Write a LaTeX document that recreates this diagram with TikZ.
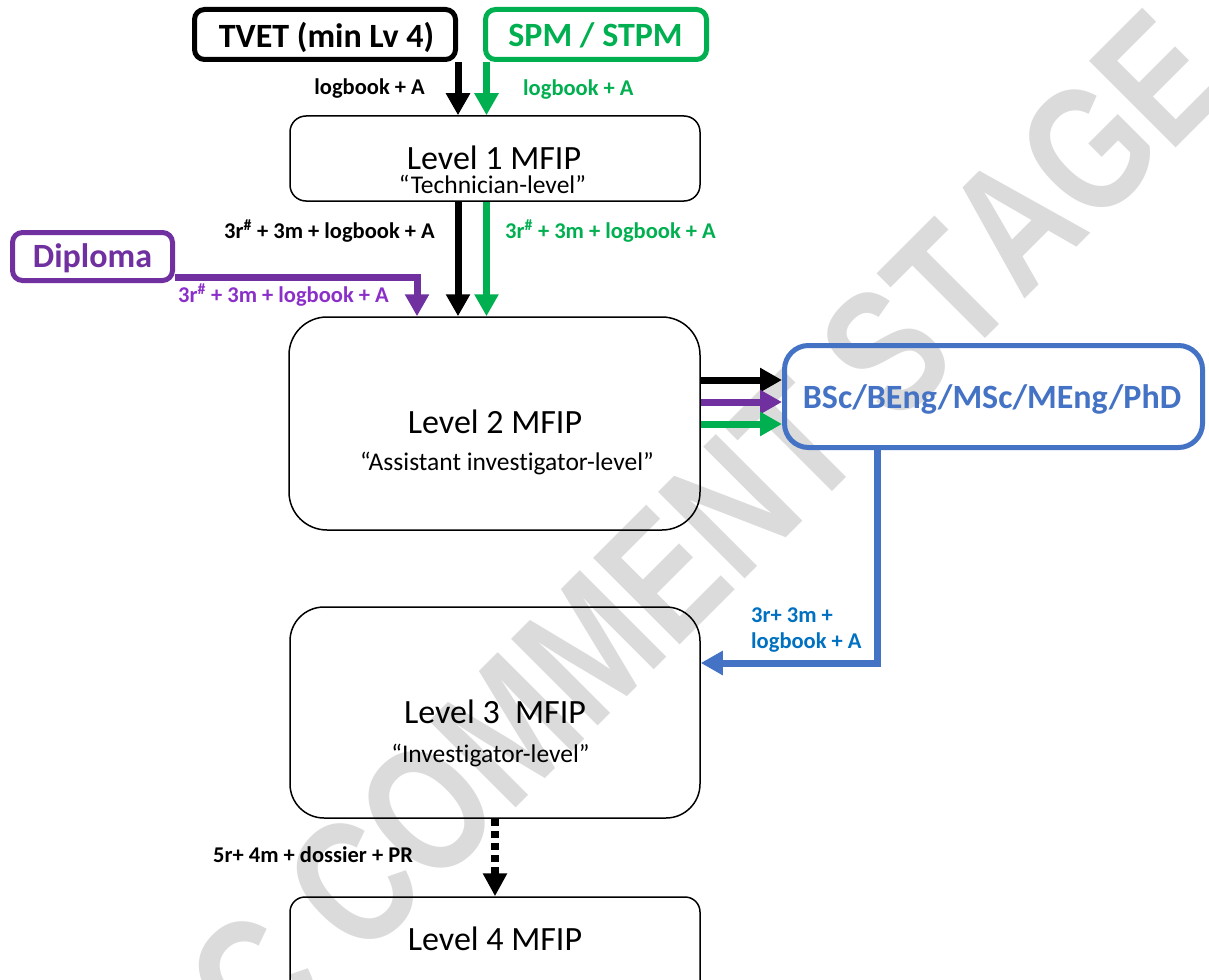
\documentclass[tikz,border=0pt]{standalone}
\usepackage{fontspec}
\setmainfont{Carlito}[Ligatures=NoCommon]
\newfontfamily\wmfont{Liberation Sans}[Kerning=Off]
\usetikzlibrary{arrows.meta,calc}
\definecolor{cgreen}{HTML}{00B050}
\definecolor{cpurple}{HTML}{7030A0}
\definecolor{cpurpletxt}{HTML}{8B2FC9}
\definecolor{cblue}{HTML}{4472C4}
\definecolor{cbluetxt}{HTML}{0070C0}
\definecolor{wmgray}{RGB}{219,219,219}
\begin{document}
\begin{tikzpicture}[x=1pt,y=-1pt,
  srcbox/.style={draw, line width=5pt, rounded corners=10pt, inner sep=0pt},
  lvlbox/.style={draw, line width=1.5pt, inner sep=0pt},
  bigt/.style={font=\fontsize{34}{40}\selectfont, inner sep=0pt, anchor=base},
  bigb/.style={font=\fontsize{34}{40}\selectfont\bfseries, inner sep=0pt, anchor=base},
  subt/.style={font=\fontsize{25.5}{30}\selectfont, inner sep=0pt, anchor=base},
  lab/.style={font=\fontsize{22.5}{27}\selectfont\bfseries, inner sep=0pt},
  arr/.style={line width=7pt, -{Triangle[length=22pt,width=23pt]}},
  dotarr/.style={line width=8pt, dash pattern=on 7pt off 5pt, -{Triangle[length=23pt,width=23pt]}},
  wm/.style={text=wmgray, inner sep=0pt, font=\wmfont\bfseries\fontsize{139}{139}\selectfont}
]
\useasboundingbox (0,0) rectangle (1209,979);
\fill[white] (0,0) rectangle (1209,979);
\begin{scope}
  \clip (0,0) rectangle (1209,979);
  % watermark
  \node[wm, rotate=45, anchor=base west] (WM) at (263.5,1060.5) {\scalebox{1}[1.28]{C COMMENT STAGE}};
  % boxes
  \node[srcbox, minimum width=261pt, minimum height=50pt] (TVET) at (325,34.5) {};
  \node[srcbox, cgreen, minimum width=221pt, minimum height=50pt] (SPM) at (596,34.5) {};
  \node[srcbox, cpurple, minimum width=160pt, minimum height=48pt] (Dip) at (92.5,256.5) {};
  \node[srcbox, cblue, rounded corners=24pt, minimum width=418pt, minimum height=102pt] (BSc) at (993.5,396.5) {};
  \node[lvlbox, rounded corners=16pt, minimum width=410pt, minimum height=85pt] (L1) at (495,158.5) {};
  \node[lvlbox, rounded corners=38pt, minimum width=411pt, minimum height=213pt] (L2) at (494.5,423.5) {};
  \node[lvlbox, rounded corners=34pt, minimum width=410pt, minimum height=211pt] (L3) at (495,712.5) {};
  \node[lvlbox, rounded corners=15pt, minimum width=410pt, minimum height=113pt] (L4) at (495,953.5) {};
  % box texts
  \node[bigb] (tTVET) at (326.5,48) {TVET (min Lv 4)};
  \node[bigb, text=cgreen] (tSPM) at (595.5,47) {SPM / STPM};
  \node[bigb, text=cpurple] (tDip) at (92.5,267) {Diploma};
  \node[bigb, text=cblue] (tBSc) at (992,408) {BSc/BEng/MSc/MEng/PhD};
  \node[bigt] (tL1) at (494,169) {Level 1 MFIP};
  \node[subt] (sL1) at (492.5,193) {“Technician-level”};
  \node[bigt] (tL2) at (495,433) {Level 2 MFIP};
  \node[subt] (sL2) at (507,470) {“Assistant investigator-level”};
  \node[bigt] (tL3) at (495,723) {Level 3\ \ MFIP};
  \node[subt] (sL3) at (490.5,762) {“Investigator-level”};
  \node[bigt] (tL4) at (495,950) {Level 4 MFIP};
  % connectors
  \draw[arr] (TVET.south east) -- (TVET.south east |- L1.north);
  \coordinate (g1) at ($(SPM.south west)+(3.5,0)$);
  \draw[arr, cgreen] (g1) -- (g1 |- L1.north);
  \coordinate (b2) at (TVET.south east |- L1.south);
  \draw[arr] (b2) -- (b2 |- L2.north);
  \coordinate (g2) at (g1 |- L1.south);
  \draw[arr, cgreen] (g2) -- (g2 |- L2.north);
  \coordinate (p1) at ($(Dip.east)+(0,20.5)$);
  \coordinate (pcol) at (417,0 |- L2.north);
  \draw[arr, cpurple] (p1) -| (pcol);
  \draw[arr] (L2.east |- 0,380) -- (BSc.west |- 0,380);
  \draw[arr, cpurple] (L2.east |- 0,402) -- (BSc.west |- 0,402);
  \draw[arr, cgreen] (L2.east |- 0,424) -- (BSc.west |- 0,424);
  \coordinate (bb) at (877,0 |- BSc.south);
  \draw[arr, cblue] (bb) |- (L3.east |- 0,663);
  \draw[dotarr] (L3.south) -- (L4.north);
  % labels
  \node[lab, anchor=base east] (lb1) at (425,95) {logbook + A};
  \node[lab, anchor=base west, text=cgreen] (lg1) at (523,96) {logbook + A};
  \node[lab, anchor=base east] (lb2) at (435,238) {3r\textsuperscript{\#} + 3m + logbook + A};
  \node[lab, anchor=base west, text=cgreen] (lg2) at (505,238) {3r\textsuperscript{\#} + 3m + logbook + A};
  \node[lab, anchor=base east, text=cpurpletxt] (lp) at (389,302) {3r\textsuperscript{\#} + 3m + logbook + A};
  \node[lab, anchor=base west, text=cbluetxt] (lbl1) at (751,622) {3r+ 3m +};
  \node[lab, anchor=base west, text=cbluetxt] (lbl2) at (751,648) {logbook + A};
  \node[lab, anchor=base west] (ld) at (213,862) {5r+ 4m + dossier + PR};
\end{scope}
\end{tikzpicture}
\end{document}
